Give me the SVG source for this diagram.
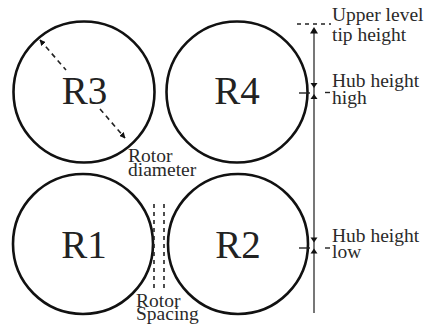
<svg xmlns="http://www.w3.org/2000/svg" width="429" height="330" viewBox="0 0 429 330">
<defs>
<marker id="ah" viewBox="0 0 10 10" refX="9" refY="5" markerWidth="6" markerHeight="6" orient="auto-start-reverse" markerUnits="userSpaceOnUse">
<path d="M0,0 L10,5 L0,10 z" fill="#111"/>
</marker>
</defs>
<rect width="429" height="330" fill="#fff"/>
<g id="R3"><circle fill="none" stroke="#111" stroke-width="2.6" cx="84" cy="92" r="70.5"/><text font-family="Liberation Serif" font-size="39" fill="#222" text-anchor="middle" x="84.5" y="104">R3</text></g>
<g id="R4"><circle fill="none" stroke="#111" stroke-width="2.6" cx="237" cy="92" r="70.5"/><text font-family="Liberation Serif" font-size="39" fill="#222" text-anchor="middle" x="237" y="104">R4</text></g>
<g id="R1"><circle fill="none" stroke="#111" stroke-width="2.6" cx="83" cy="244" r="70"/><text font-family="Liberation Serif" font-size="39" fill="#222" text-anchor="middle" x="84" y="258">R1</text></g>
<g id="R2"><circle fill="none" stroke="#111" stroke-width="2.6" cx="238" cy="244" r="70"/><text font-family="Liberation Serif" font-size="39" fill="#222" text-anchor="middle" x="238" y="258">R2</text></g>
<g id="connectors" fill="none" stroke="#222">
<line stroke-width="1.6" stroke-dasharray="5 4" x1="40" y1="40" x2="66" y2="70" marker-start="url(#ah)"/>
<line stroke-width="1.6" stroke-dasharray="5 4" x1="100" y1="109" x2="125" y2="138" marker-end="url(#ah)"/>
<line stroke-width="1.6" stroke-dasharray="4 4" x1="154" y1="204" x2="154" y2="291"/>
<line stroke-width="1.6" stroke-dasharray="4 4" x1="164" y1="204" x2="164" y2="291"/>
<line stroke="#555" stroke-width="1.6" x1="314" y1="30" x2="314" y2="313"/>
<line stroke-width="1.6" stroke-dasharray="4 4" x1="297" y1="24" x2="331" y2="24"/>
<line stroke-width="1.4" x1="299" y1="93" x2="310" y2="93"/>
<line stroke-width="1.4" x1="325" y1="92.5" x2="330" y2="92.5"/>
<line stroke-width="1.4" x1="299" y1="248" x2="310" y2="248"/>
<line stroke-width="1.4" x1="325" y1="248" x2="330" y2="248"/>
<g fill="#111" stroke="none">
<path d="M314,27 L310,33.5 L318,33.5 z"/>
<path d="M314,88 L310.5,83 L317.5,83 z"/>
<path d="M314,94 L310.5,99 L317.5,99 z"/>
<path d="M314,242.5 L310.5,237.5 L317.5,237.5 z"/>
<path d="M314,248.5 L310.5,253.5 L317.5,253.5 z"/>
</g>
</g>
<g id="label-rotor-diameter"><text font-family="Liberation Serif" font-size="19.5" fill="#2a2a2a" x="128" y="162">Rotor</text><text font-family="Liberation Serif" font-size="19.5" fill="#2a2a2a" x="128" y="176">diameter</text></g>
<g id="label-rotor-spacing"><text font-family="Liberation Serif" font-size="19.5" fill="#2a2a2a" x="136" y="307">Rotor</text><text font-family="Liberation Serif" font-size="19.5" fill="#2a2a2a" x="136" y="320">Spacing</text></g>
<g id="label-upper-tip"><text font-family="Liberation Serif" font-size="19.5" fill="#2a2a2a" x="332" y="21">Upper level</text><text font-family="Liberation Serif" font-size="19.5" fill="#2a2a2a" x="332" y="41">tip height</text></g>
<g id="label-hub-high"><text font-family="Liberation Serif" font-size="19.5" fill="#2a2a2a" x="332" y="87">Hub height</text><text font-family="Liberation Serif" font-size="19.5" fill="#2a2a2a" x="332" y="104">high</text></g>
<g id="label-hub-low"><text font-family="Liberation Serif" font-size="19.5" fill="#2a2a2a" x="332" y="242">Hub height</text><text font-family="Liberation Serif" font-size="19.5" fill="#2a2a2a" x="332" y="258">low</text></g>
</svg>
